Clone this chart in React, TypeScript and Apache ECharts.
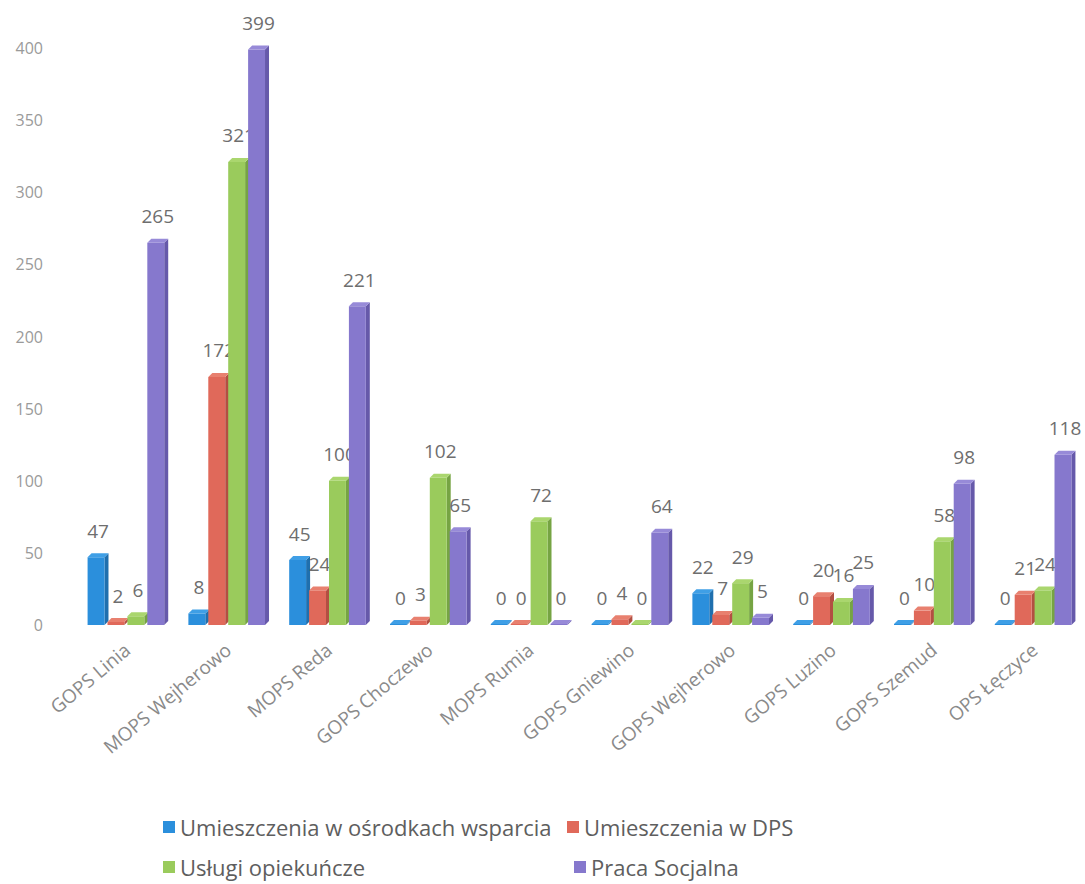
import React, { useEffect, useRef } from "react";
import * as echarts from "echarts";

const categories = [
  "GOPS Linia",
  "MOPS Wejherowo",
  "MOPS Reda",
  "GOPS Choczewo",
  "MOPS Rumia",
  "GOPS Gniewino",
  "GOPS Wejherowo",
  "GOPS Luzino",
  "GOPS Szemud",
  "OPS Łęczyce",
];
const seriesNames = [
  "Umieszczenia w ośrodkach wsparcia",
  "Umieszczenia w DPS",
  "Usługi opiekuńcze",
  "Praca Socjalna",
];
const osrodki = [47, 8, 45, 0, 0, 0, 22, 0, 0, 0];
const dps = [2, 172, 24, 3, 0, 4, 7, 20, 10, 21];
const uslugi = [6, 321, 100, 102, 72, 0, 29, 16, 58, 24];
const praca = [265, 399, 221, 65, 0, 64, 5, 25, 98, 118];
const yMin = 0;
const yMax = 400;
const yStep = 50;

const colors = ["#2b8fdc", "#e0695a", "#9acb5c", "#8678cd"];
const sides = ["#1f6fae", "#b24f42", "#76a443", "#6659aa"];
const tops = ["#3f9fe6", "#e8806f", "#aad66e", "#978ad8"];
const FONT = '"Open Sans", "Noto Sans", sans-serif';

function makeRender(idx: number) {
  return (params: any, api: any) => {
    const ci = api.value(0);
    const v = api.value(1);
    const top = api.coord([ci, v]);
    const base = api.coord([ci, 0]);
    const band = api.size([1, 0])[0];
    const groupW = band * 0.79;
    const bw = groupW / 4;
    const x0 = top[0] - groupW / 2 + idx * bw;
    const d = 4;
    const h = 4;
    let yTop = top[1];
    if (base[1] - yTop < 1) yTop = base[1] - 1;
    const fw = bw - d + 1;
    return {
      type: "group",
      children: [
        {
          type: "polygon",
          shape: {
            points: [
              [x0 + fw, yTop],
              [x0 + fw + d, yTop - h],
              [x0 + fw + d, base[1] - h],
              [x0 + fw, base[1]],
            ],
          },
          style: { fill: sides[idx] },
        },
        {
          type: "rect",
          shape: { x: x0, y: yTop, width: fw, height: base[1] - yTop },
          style: { fill: colors[idx] },
        },
        {
          type: "polygon",
          shape: {
            points: [
              [x0, yTop],
              [x0 + d, yTop - h],
              [x0 + fw + d, yTop - h],
              [x0 + fw, yTop],
            ],
          },
          style: { fill: tops[idx] },
        },
        {
          type: "text",
          style: {
            text: String(v),
            x: x0 + fw / 2 + d / 2,
            y: yTop - h - 13,
            align: "center",
            verticalAlign: "bottom",
            fill: "#6e6e6e",
            fontSize: 19,
            fontFamily: FONT,
          },
        },
      ],
    };
  };
}

export default function App() {
  const ref = useRef<HTMLDivElement>(null);
  useEffect(() => {
    if (!ref.current) return;
    document.body.style.margin = "0";
    const chart = echarts.init(ref.current, null, { renderer: "svg" });
    const all = [osrodki, dps, uslugi, praca];
    const legendPos = [
      { left: 163, top: 816 },
      { left: 567, top: 816 },
      { left: 163, top: 856 },
      { left: 574, top: 856 },
    ];
    chart.setOption({
      animation: false,
      backgroundColor: "#ffffff",
      grid: { left: 77, top: 48, width: 1015, bottom: 259, containLabel: false },
      legend: seriesNames.map((n, i) => ({
        data: [n],
        left: legendPos[i].left,
        top: legendPos[i].top,
        padding: 0,
        icon: "rect",
        itemWidth: 12,
        itemHeight: 12,
        itemGap: 4,
        selectedMode: false,
        textStyle: { fontSize: 22, color: "#5e5e5e", fontFamily: FONT },
      })),
      xAxis: {
        type: "category",
        data: categories,
        axisLine: { show: false },
        axisTick: { show: false },
        axisLabel: {
          rotate: 40,
          interval: 0,
          margin: 22,
          fontSize: 19,
          color: "#8a8a8a",
          fontFamily: FONT,
        },
      },
      yAxis: {
        type: "value",
        min: yMin,
        max: yMax,
        interval: yStep,
        axisLine: { show: false },
        axisTick: { show: false },
        splitLine: { show: false },
        axisLabel: { margin: 34, fontSize: 16, color: "#9a9a9a", fontFamily: FONT },
      },
      series: all.map((arr, i) => ({
        type: "custom",
        name: seriesNames[i],
        itemStyle: { color: colors[i] },
        renderItem: makeRender(i),
        encode: { x: 0, y: 1 },
        data: arr.map((v, ci) => [ci, v]),
        clip: false,
      })),
    });
    return () => chart.dispose();
  }, []);
  return <div ref={ref} style={{ width: 1085, height: 884 }} />;
}
